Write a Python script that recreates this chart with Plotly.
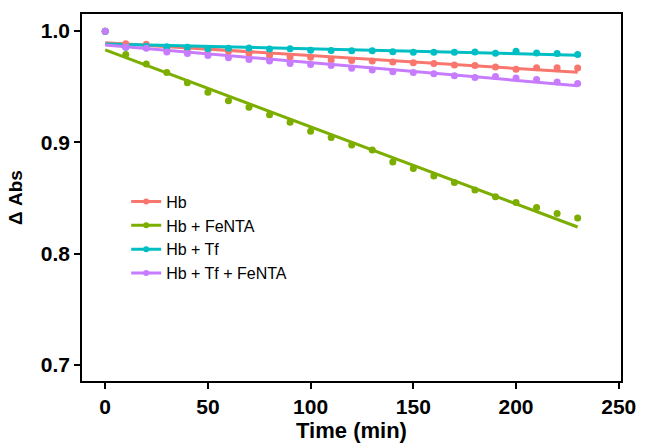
import numpy as np
import plotly.graph_objects as go

time_min = [0, 10, 20, 30, 40, 50, 60, 70, 80, 90, 100, 110, 120, 130, 140, 150,
            160, 170, 180, 190, 200, 210, 220, 230]

hb = [1.000, 0.9886, 0.9883, 0.9850, 0.9840, 0.9833, 0.9818, 0.9800, 0.9780, 0.9769,
      0.9766, 0.9740, 0.9736, 0.9731, 0.9722, 0.9716, 0.9710, 0.9695, 0.9692, 0.9678,
      0.9657, 0.9670, 0.9670, 0.9668]

hb_fenta = [1.000, 0.9790, 0.9704, 0.9628, 0.9535, 0.9450, 0.9373, 0.9315, 0.9248, 0.9180,
            0.9100, 0.9043, 0.8975, 0.8931, 0.8823, 0.8765, 0.8697, 0.8640, 0.8572, 0.8510,
            0.8460, 0.8413, 0.8360, 0.8320]

hb_tf = [1.000, 0.9855, 0.9865, 0.9860, 0.9854, 0.9842, 0.9845, 0.9848, 0.9840, 0.9842,
         0.9827, 0.9826, 0.9824, 0.9824, 0.9815, 0.9810, 0.9810, 0.9810, 0.9812, 0.9801,
         0.9818, 0.9803, 0.9798, 0.9790]

hb_tf_fenta = [1.000, 0.9855, 0.9847, 0.9812, 0.9798, 0.9780, 0.9760, 0.9745, 0.9731, 0.9710,
               0.9700, 0.9692, 0.9666, 0.9651, 0.9634, 0.9628, 0.9616, 0.9599, 0.9584, 0.9593,
               0.9578, 0.9564, 0.9543, 0.9530]

series_names = ["Hb", "Hb + FeNTA", "Hb + Tf", "Hb + Tf + FeNTA"]
series_values = [hb, hb_fenta, hb_tf, hb_tf_fenta]
series_colors = ["#F8766D", "#7CAE00", "#00BFC4", "#C77CFF"]

x_ticks = [0, 50, 100, 150, 200, 250]
y_ticks = [0.7, 0.8, 0.9, 1.0]

FONT = "Liberation Sans, Arial, sans-serif"

fig = go.Figure()
t = np.array(time_min, dtype=float)

# fitted linear trend lines (lm fit, like geom_smooth)
for name, vals, col in zip(series_names, series_values, series_colors):
    coef = np.polyfit(t, np.array(vals), 1)
    fig.add_trace(go.Scatter(x=t, y=np.polyval(coef, t), mode="lines",
                             line=dict(color=col, width=3), showlegend=False,
                             hoverinfo="skip"))

# data points
for name, vals, col in zip(series_names, series_values, series_colors):
    fig.add_trace(go.Scatter(x=time_min, y=vals, mode="markers",
                             marker=dict(color=col, size=7), showlegend=False,
                             name=name))

# legend entries (line + dot)
for name, col in zip(series_names, series_colors):
    fig.add_trace(go.Scatter(x=[None], y=[None], mode="lines+markers", name=name,
                             line=dict(color=col, width=3),
                             marker=dict(color=col, size=6)))

axis_common = dict(showline=True, linecolor="black", linewidth=1.6, mirror=True,
                   ticks="outside", ticklen=6, tickwidth=1.6, tickcolor="black",
                   showgrid=False, zeroline=False,
                   tickfont=dict(family=FONT, size=21, color="black", weight="bold"))

fig.update_layout(
    width=648, height=447,
    margin=dict(l=82, r=17, t=12, b=59),
    paper_bgcolor="white", plot_bgcolor="white",
    showlegend=True,
    legend=dict(x=0.082, y=0.535, xanchor="left", yanchor="top",
                bgcolor="rgba(0,0,0,0)", font=dict(family=FONT, size=16, color="black"),
                tracegroupgap=0),
    xaxis=dict(range=[-11.3, 251.1], tickvals=x_ticks,
               title=dict(text="Time (min)", standoff=2,
                          font=dict(family=FONT, size=22, color="black", weight="bold")),
               **axis_common),
    yaxis=dict(range=[0.6854, 1.0154], tickvals=y_ticks, tickformat=".1f",
               title=dict(text="Δ Abs", standoff=13,
                          font=dict(family=FONT, size=19, color="black", weight="bold")),
               **axis_common),
)

fig.write_html("out.html")
